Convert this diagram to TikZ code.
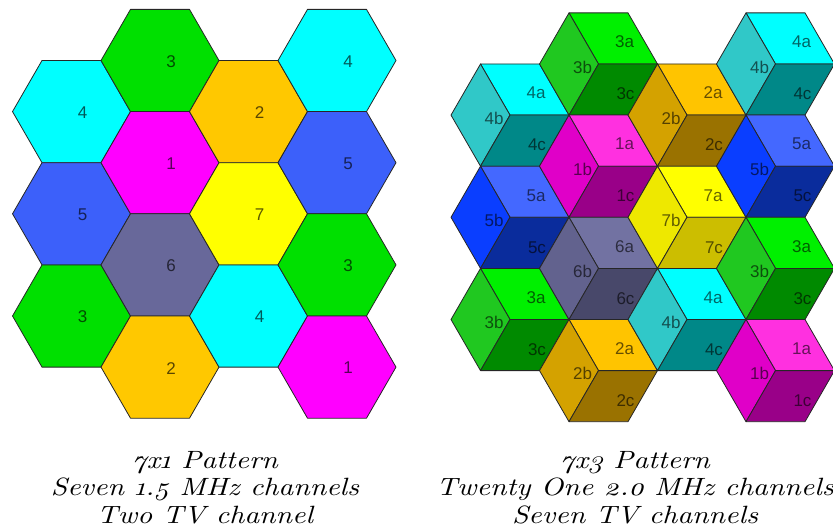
\documentclass[tikz,border=0pt]{standalone}
\usepackage{fontspec}
\newfontfamily\cellfont{Liberation Sans}
\newfontfamily\capserif{lmroman10-regular.otf}[ItalicFont=lmroman10-italic.otf, FakeStretch=1.17, Numbers=OldStyle]
\usepackage{xcolor}
\usepackage{tikz}

\definecolor{cellgreen}{HTML}{00E000}
\definecolor{cellcyan}{HTML}{00FFFF}
\definecolor{cellorange}{HTML}{FFC800}
\definecolor{cellmagenta}{HTML}{FF00FF}
\definecolor{cellblue}{HTML}{3C60FA}
\definecolor{cellyellow}{HTML}{FFFF00}
\definecolor{cellslate}{HTML}{68689A}

\definecolor{c1a}{HTML}{FF30E0}
\definecolor{c1b}{HTML}{E000C8}
\definecolor{c1c}{HTML}{990088}
\definecolor{c2a}{HTML}{FFC400}
\definecolor{c2b}{HTML}{D4A200}
\definecolor{c2c}{HTML}{9A7200}
\definecolor{c3a}{HTML}{00F000}
\definecolor{c3b}{HTML}{20C820}
\definecolor{c3c}{HTML}{008A00}
\definecolor{c4a}{HTML}{00FFFF}
\definecolor{c4b}{HTML}{30C8C8}
\definecolor{c4c}{HTML}{008888}
\definecolor{c5a}{HTML}{4468FF}
\definecolor{c5b}{HTML}{0A3EFF}
\definecolor{c5c}{HTML}{0A2C9C}
\definecolor{c6a}{HTML}{7272A2}
\definecolor{c6b}{HTML}{62628E}
\definecolor{c6c}{HTML}{48486A}
\definecolor{c7a}{HTML}{FFFF00}
\definecolor{c7b}{HTML}{EEE800}
\definecolor{c7c}{HTML}{CCBE00}

\newcommand{\capfont}{\capserif\itshape\fontsize{25}{27.5}\selectfont}

\tikzset{
    celledge/.style={draw=black!85, line width=0.8pt, line join=round},
    cellnum/.style={font=\cellfont\fontsize{17}{17}\selectfont, text=black, text opacity=0.65, inner sep=0pt},
    subnum/.style={font=\cellfont\fontsize{17}{17}\selectfont, text=black, text opacity=0.6, inner sep=0pt},
    patterncaption/.style={align=center, font=\capfont, inner sep=0pt, anchor=north},
    pics/plaincell/.style 2 args={code={
        \path[celledge, fill=#1] (-59,0) -- (-29.5,-51.1) -- (29.5,-51.1) -- (59,0) -- (29.5,51.1) -- (-29.5,51.1) -- cycle;
        \node[cellnum] (-num) at (11,1) {#2};
    }},
    pics/cubecell/.style={code={
        \path[celledge, fill=c#1a] (-29.5,-51.1) -- (29.5,-51.1) -- (59,0) -- (0,0) -- cycle;
        \path[celledge, fill=c#1b] (-29.5,-51.1) -- (0,0) -- (-29.5,51.1) -- (-59,0) -- cycle;
        \path[celledge, fill=c#1c] (0,0) -- (59,0) -- (29.5,51.1) -- (-29.5,51.1) -- cycle;
        \node[subnum] (-a) at (26,-22) {#1a};
        \node[subnum] (-b) at (-16,3) {#1b};
        \node[subnum] (-c) at (27,30) {#1c};
    }}
}

\begin{document}
\begin{tikzpicture}[x=1pt, y=-1pt]
    \useasboundingbox (0,0) rectangle (833,532);

    % 7x1 pattern
    \pic (p4l) at (71.5,111.6) {plaincell={cellcyan}{4}};
    \pic (p5l) at (71.5,213.8) {plaincell={cellblue}{5}};
    \pic (p3l) at (71.5,316) {plaincell={cellgreen}{3}};
    \pic (p3t) at (160,60.5) {plaincell={cellgreen}{3}};
    \pic (p1m) at (160,162.7) {plaincell={cellmagenta}{1}};
    \pic (p6m) at (160,264.9) {plaincell={cellslate}{6}};
    \pic (p2b) at (160,367.1) {plaincell={cellorange}{2}};
    \pic (p2t) at (248.5,111.6) {plaincell={cellorange}{2}};
    \pic (p7m) at (248.5,213.8) {plaincell={cellyellow}{7}};
    \pic (p4m) at (248.5,316) {plaincell={cellcyan}{4}};
    \pic (p4r) at (337,60.5) {plaincell={cellcyan}{4}};
    \pic (p5r) at (337,162.7) {plaincell={cellblue}{5}};
    \pic (p3r) at (337,264.9) {plaincell={cellgreen}{3}};
    \pic (p1r) at (337,367.1) {plaincell={cellmagenta}{1}};

    % 7x3 pattern
    \pic (q4l) at (510,115.1) {cubecell=4};
    \pic (q5l) at (510,217.3) {cubecell=5};
    \pic (q3l) at (510,319.5) {cubecell=3};
    \pic (q3t) at (598.5,64) {cubecell=3};
    \pic (q1m) at (598.5,166.2) {cubecell=1};
    \pic (q6m) at (598.5,268.4) {cubecell=6};
    \pic (q2b) at (598.5,370.6) {cubecell=2};
    \pic (q2t) at (687,115.1) {cubecell=2};
    \pic (q7m) at (687,217.3) {cubecell=7};
    \pic (q4m) at (687,319.5) {cubecell=4};
    \pic (q4r) at (775.5,64) {cubecell=4};
    \pic (q5r) at (775.5,166.2) {cubecell=5};
    \pic (q3r) at (775.5,268.4) {cubecell=3};
    \pic (q1r) at (775.5,370.6) {cubecell=1};

    % captions
    \node[patterncaption] (capleft) at (205,451) {7x1 Pattern\\Seven 1.5 MHz channels\\Two TV channel};
    \node[patterncaption] (capright) at (635,451) {7x3 Pattern\\Twenty One 2.0 MHz channels\\Seven TV channels};
\end{tikzpicture}
\end{document}
